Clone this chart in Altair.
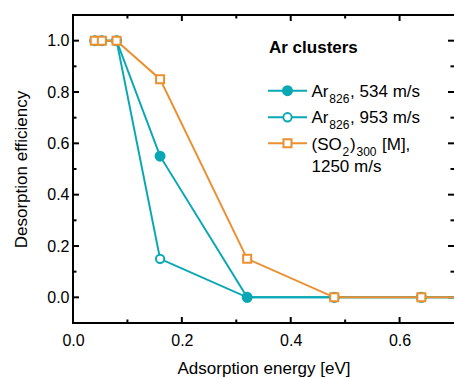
import altair as alt
import pandas as pd

# Desorption efficiency versus adsorption energy for three cluster beams
energy = [0.04, 0.053, 0.08, 0.16, 0.32, 0.48, 0.64, 0.80]
ar826_534 = [1.0, 1.0, 1.0, 0.55, 0.0, 0.0, 0.0, 0.0]
ar826_953 = [1.0, 1.0, 1.0, 0.15, 0.0, 0.0, 0.0, 0.0]
so2_300 = [1.0, 1.0, 1.0, 0.85, 0.15, 0.0, 0.0, 0.0]

x_major = [0.0, 0.2, 0.4, 0.6]
x_minor = [0.1, 0.3, 0.5]
y_major = [0.0, 0.2, 0.4, 0.6, 0.8, 1.0]
y_minor = [0.1, 0.3, 0.5, 0.7, 0.9]

TEAL = "#0aa8b4"
ORANGE = "#ec8f30"
FONT = "Liberation Sans"
W, H = 381, 308

xs = alt.Scale(domain=[0, 0.7], nice=False, zero=False)
ys = alt.Scale(domain=[-0.1, 1.1], nice=False, zero=False)

x_axis = alt.Axis(values=x_major, format=".1f", ticks=False, domain=False, grid=False,
                  labelFontSize=16, labelFont=FONT, labelColor="black", labelPadding=9,
                  labelFlush=False, labelOverlap=False,
                  title="Adsorption energy [eV]", titleFont=FONT, titleFontSize=17,
                  titleFontWeight="normal", titleColor="black", titlePadding=12)
y_axis = alt.Axis(values=y_major, format=".1f", ticks=False, domain=False, grid=False,
                  labelFontSize=16, labelFont=FONT, labelColor="black", labelPadding=4,
                  labelFlush=False, labelOverlap=False,
                  title="Desorption efficiency", titleFont=FONT, titleFontSize=17,
                  titleFontWeight="normal", titleColor="black", titlePadding=16)

X = alt.X("energy:Q", scale=xs, axis=x_axis)
Y = alt.Y("eff:Q", scale=ys, axis=y_axis)


def series(values, color, shape, fill, size):
    df = pd.DataFrame({"energy": energy, "eff": values})
    base = alt.Chart(df).encode(x=X, y=Y)
    line = base.mark_line(color=color, strokeWidth=2, clip=True)
    pts = base.mark_point(shape=shape, filled=True, fill=fill, stroke=color,
                          strokeWidth=2, size=size, opacity=1, clip=True)
    return line + pts


# inward ticks on all four sides
def xticks(vals, length):
    df = pd.DataFrame({"energy": vals})
    b = alt.Chart(df).mark_rule(color="black", strokeWidth=2)
    bottom = b.encode(x=X, y=alt.value(H), y2=alt.value(H - length))
    top = b.encode(x=X, y=alt.value(0), y2=alt.value(length))
    return bottom + top


def yticks(vals, length):
    df = pd.DataFrame({"eff": vals})
    b = alt.Chart(df).mark_rule(color="black", strokeWidth=2)
    left = b.encode(y=Y, x=alt.value(0), x2=alt.value(length))
    right = b.encode(y=Y, x=alt.value(W), x2=alt.value(W - length))
    return left + right


one = alt.Data(values=[{}])
spine = alt.Chart(one).mark_rule(color="black", strokeWidth=2)
spines = (
    spine.encode(x=alt.value(-1), x2=alt.value(W), y=alt.value(0))
    + spine.encode(x=alt.value(-1), x2=alt.value(W), y=alt.value(H))
    + spine.encode(x=alt.value(0), y=alt.value(-1), y2=alt.value(H + 1))
)

# Arial/Liberation Sans advance widths (per 1000 em)
ADV = {"A": 667, "r": 333, "(": 333, ")": 333, "S": 667, "O": 778, ",": 278, " ": 278,
       "m": 833, "/": 278, "s": 500, "[": 278, "]": 278, "M": 833,
       **{d: 556 for d in "0123456789"}}


def text_width(s, size):
    return sum(ADV[c] for c in s) * size / 1000.0


def text_at(x, y, s, size, weight="normal"):
    return alt.Chart(one).mark_text(align="left", baseline="alphabetic", font=FONT,
                                    fontSize=size, fontWeight=weight, color="black").encode(
        x=alt.value(x), y=alt.value(y), text=alt.value(s))


def rich_line(x, y, pieces, gap=0.8):
    # pieces of (text, font size, baseline shift); subscripts are drawn smaller and lower
    layers = []
    for s, size, dy in pieces:
        lead = len(s) - len(s.lstrip(" "))
        x_draw = x + text_width(s[:lead], size)
        layers.append(text_at(x_draw, y + dy, s.lstrip(" "), size))
        x += text_width(s, size) + gap
    return alt.layer(*layers)


def key(y, color, shape, fill, size):
    ln = alt.Chart(one).mark_rule(color=color, strokeWidth=2).encode(
        x=alt.value(195), x2=alt.value(234), y=alt.value(y))
    pt = alt.Chart(one).mark_point(shape=shape, filled=True, fill=fill, stroke=color,
                                   strokeWidth=2, size=size, opacity=1).encode(
        x=alt.value(214.5), y=alt.value(y))
    return ln + pt


TX = 238.5
SUB = 6
legend = alt.layer(
    text_at(196, 37.5, "Ar clusters", 17, "bold"),
    key(75.7, TEAL, "circle", TEAL, 80),
    key(102.3, TEAL, "circle", "white", 70),
    key(128.3, ORANGE, "square", "white", 64),
    rich_line(TX, 81.5, [("Ar", 17, 0), ("826", 12, SUB), (", 534 m/s", 17, 0)]),
    rich_line(TX, 108, [("Ar", 17, 0), ("826", 12, SUB), (", 953 m/s", 17, 0)]),
    rich_line(TX, 134.5, [("(SO", 17, 0), ("2", 12, SUB), (")", 17, 0), ("300", 12, SUB),
                          (" [M],", 17, 0)]),
    text_at(TX, 156.5, "1250 m/s", 17),
)

chart = alt.layer(
    xticks(x_major, 6), xticks(x_minor, 3.5),
    yticks(y_major, 6), yticks(y_minor, 3.5),
    series(ar826_953, TEAL, "circle", "white", 70),
    series(ar826_534, TEAL, "circle", TEAL, 80),
    series(so2_300, ORANGE, "square", "white", 64),
    spines,
    legend,
).properties(
    width=W, height=H,
    autosize=alt.AutoSizeParams(type="none"),
    padding={"left": 73, "top": 15, "right": 0, "bottom": 55},
).configure_view(stroke=None).configure(background="white")

chart.save("out.html", embed_options={"renderer": "svg", "actions": False})
